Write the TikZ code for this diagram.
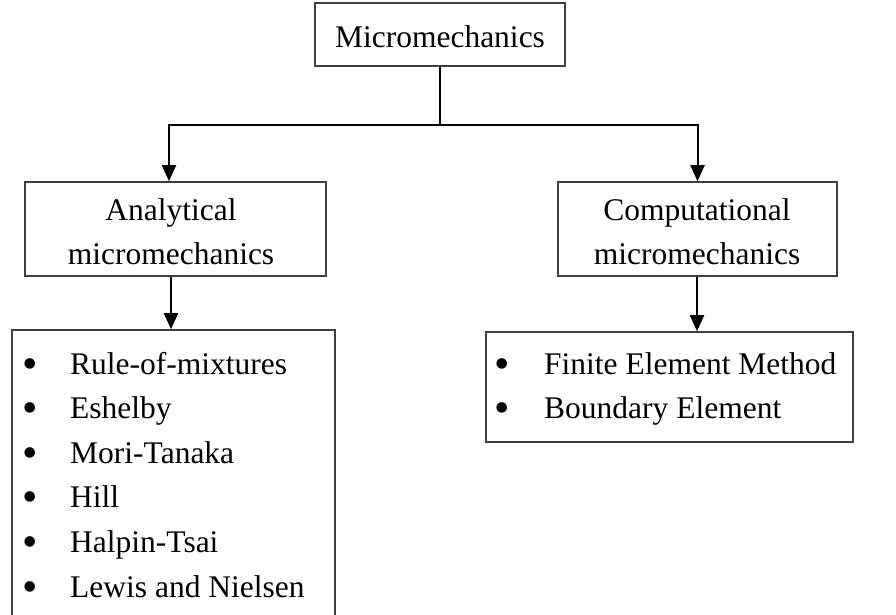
\documentclass[tikz,border=0pt]{standalone}
\usepackage{fontspec}
\setmainfont{Liberation Serif}
\usetikzlibrary{arrows.meta}
\begin{document}
\begin{tikzpicture}[x=1pt,y=-1pt,
  box/.style={draw=black!75, line width=1.6pt, rectangle, inner sep=0pt},
  txt/.style={inner sep=0pt, font=\fontsize{31.5}{38}\selectfont},
  ctxt/.style={txt, anchor=base},
  ltxt/.style={txt, anchor=base west},
  bul/.style={inner sep=0pt, anchor=base, font=\fontsize{44}{50}\selectfont},
  conn/.style={draw=black, line width=2pt},
  arr/.style={conn, -{Triangle[length=16pt,width=14pt]}}]
\useasboundingbox (0,0) rectangle (896,615);
\clip (0,0) rectangle (896,615);
% boxes
\node[box, minimum width=250pt, minimum height=63pt] (top) at (440,34.5) {};
\node[box, minimum width=301pt, minimum height=94pt] (ana) at (175.5,229) {};
\node[box, minimum width=279pt, minimum height=94pt] (comp) at (697.5,229) {};
\node[box, minimum width=323pt, minimum height=310pt] (lst1) at (173.5,485) {};
\node[box, minimum width=367pt, minimum height=110pt] (lst2) at (669.5,387) {};
% texts
\node[ctxt] (tTop) at (440,48) {Micromechanics};
\node[ctxt] (tA1) at (171,220) {Analytical};
\node[ctxt] (tA2) at (171,264) {micromechanics};
\node[ctxt] (tC1) at (697,220) {Computational};
\node[ctxt] (tC2) at (697,264) {micromechanics};
% left list
\foreach \t [count=\i from 0] in {Rule-of-mixtures,Eshelby,Mori-Tanaka,Hill,Halpin-Tsai,Lewis and Nielsen}{
  \node[bul] (b1\i) at (30,378+44.6*\i) {•};
  \node[ltxt] (l1\i) at (70,374+44.6*\i) {\t};
}
% right list
\foreach \t [count=\i from 0] in {Finite Element Method,Boundary Element}{
  \node[bul] (b2\i) at (502,378+44.6*\i) {•};
  \node[ltxt] (l2\i) at (544,374+44.6*\i) {\t};
}
% connectors
\coordinate (j) at (440,125);
\draw[conn] (top.south) -- (j);
\draw[arr] (j) -| ([xshift=-6.5pt]ana.north);
\draw[arr] (j) -| (comp.north);
\draw[arr] ([xshift=-4.5pt]ana.south) -- ([xshift=-4.5pt]ana.south |- lst1.north);
\draw[arr] ([xshift=-0.5pt]comp.south) -- ([xshift=-0.5pt]comp.south |- lst2.north);
\end{tikzpicture}
\end{document}
